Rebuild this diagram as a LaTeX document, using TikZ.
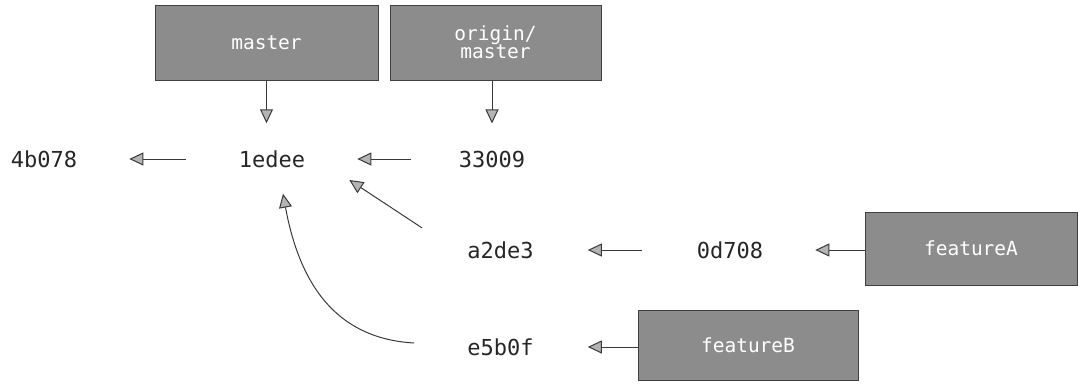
\documentclass[tikz,border=0pt]{standalone}
\usepackage{fontspec}
\setmonofont{DejaVu Sans Mono}
\usetikzlibrary{arrows.meta,calc}
\definecolor{boxgray}{HTML}{8C8C8C}
\definecolor{linegray}{HTML}{3A3A3A}
\definecolor{tipgray}{HTML}{B4B4B4}
\tikzset{
  commit/.style={inner sep=0pt,font=\ttfamily\fontsize{22}{26}\selectfont,text=black!85},
  branch/.style={draw=black!75,line width=0.8pt,fill=boxgray,text=white,
    font=\ttfamily\fontsize{19.5}{21}\selectfont,align=center,inner sep=0pt},
  link/.style={draw=linegray,line width=1pt,
    -{Triangle[length=14pt,width=13pt,fill=tipgray]}},
}
\begin{document}
\begin{tikzpicture}[x=1pt,y=-1pt]
\useasboundingbox (0,0) rectangle (1078,385);
% branch boxes
\node[branch,minimum width=223pt,minimum height=75pt] (master) at (266.5,42.5) {master};
\node[branch,minimum width=211pt,minimum height=75pt] (origin) at (495.5,42.5) {origin/\\[-3pt]master};
\node[branch,minimum width=212pt,minimum height=73pt] (featA) at (971,248.5) {featureA};
\node[branch,minimum width=220pt,minimum height=70pt] (featB) at (748,345) {featureB};
% commits
\node[commit] (c4b078) at (44,159) {4b078};
\node[commit] (c1edee) at (272,159) {1edee};
\node[commit] (c33009) at (492,159) {33009};
\node[commit] (ca2de3) at (500.5,250) {a2de3};
\node[commit] (c0d708) at (730,250) {0d708};
\node[commit] (ce5b0f) at (500.5,347) {e5b0f};
% connectors
\draw[link,shorten <=53pt,shorten >=52pt] (c1edee) -- (c4b078);
\draw[link,shorten <=48pt,shorten >=52pt] (c33009) -- (c1edee);
\draw[link,shorten <=55pt,shorten >=54pt] (c0d708) -- (ca2de3);
\draw[link,shorten >=52pt] (featA.west |- c0d708) -- (c0d708);
\draw[link,shorten >=54pt] (featB.west |- ce5b0f) -- (ce5b0f);
\draw[link,shorten >=27pt] (master.south) -- (master.south |- c1edee.north);
\draw[link,shorten >=27pt] (origin.south -| c33009) -- (c33009.north);
\draw[link] ($(ca2de3.west)+(-45,-22)$) -- ($(c1edee.east)+(44,21)$);
\draw[link] ($(ce5b0f.west)+(-53,-4)$) .. controls (342,339) and (301,292) .. ($(c1edee.south)+(11,26)$);
\end{tikzpicture}
\end{document}
